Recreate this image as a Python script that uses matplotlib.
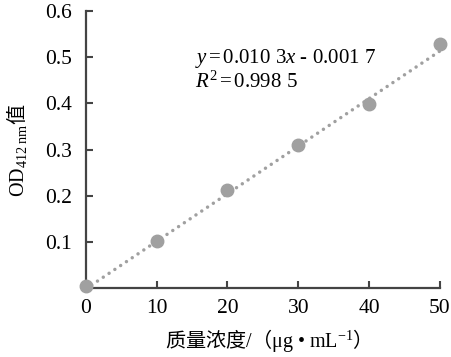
import numpy as np
import matplotlib
matplotlib.use("Agg")
import matplotlib.pyplot as plt

# data
conc = [0, 10, 20, 30, 40, 50]
od = [0.004, 0.102, 0.213, 0.310, 0.398, 0.528]
slope = 0.0103
intercept = -0.0017
xticks = [0, 10, 20, 30, 40, 50]
yticks = [0.1, 0.2, 0.3, 0.4, 0.5, 0.6]

plt.rcParams['font.family'] = ['Liberation Serif', 'Noto Sans CJK SC']
plt.rcParams['mathtext.fontset'] = 'custom'
plt.rcParams['mathtext.rm'] = 'Liberation Serif'
plt.rcParams['mathtext.it'] = 'Liberation Serif:italic'
plt.rcParams['mathtext.sf'] = 'Noto Sans CJK SC'

gray = '#a0a0a0'
axcol = '#444444'

fig = plt.figure(figsize=(4.52, 3.57), dpi=100)
ax = fig.add_axes([0.190, 0.193, 0.783, 0.776])

xfit = np.array([conc[0], conc[-1]])
ax.plot(xfit, slope * xfit + intercept, color=gray, lw=2.5,
        linestyle=(0, (0.01, 2.0)), dash_capstyle='round', clip_on=False)
ax.plot(conc, od, 'o', color=gray, markersize=9, clip_on=False, zorder=3)

ax.set_xlim(0, 50)
ax.set_ylim(0, 0.6)
ax.set_xticks(xticks)
ax.set_yticks(yticks)
ax.set_xticklabels([str(v) for v in xticks])
ax.set_yticklabels(["%.1f" % v for v in yticks])
ax.tick_params(direction='in', length=5, width=1.5, color=axcol, labelsize=15.5)
ax.tick_params(axis='y', pad=10)
ax.tick_params(axis='x', pad=8)
for s in ['top', 'right']:
    ax.spines[s].set_visible(False)
for s in ['left', 'bottom']:
    ax.spines[s].set_color(axcol)
    ax.spines[s].set_linewidth(1.6)

ax.text(195 / 452, 1 - 63 / 357, r"$y\,$=$\,$0.010 3$x$ - 0.001 7", transform=fig.transFigure,
        fontsize=15, ha='left', va='baseline')
ax.text(195 / 452, 1 - 88 / 357, r"$R^2\,$=$\,$0.998 5", transform=fig.transFigure,
        fontsize=15, ha='left', va='baseline')

fig.text(263 / 452, 1 - 340 / 357,
         r"$\mathsf{质量浓度}$/$\mathsf{（}$μg • mL$^{-1}$$\mathsf{）}$",
         fontsize=14.5, ha='center', va='center')
fig.text(17 / 452, 1 - 150 / 357, r"OD$_{412\ \mathrm{nm}}\mathsf{值}$",
         fontsize=14.5, rotation=90, ha='center', va='center')

fig.savefig("out.png", dpi=100)
plt.close(fig)
